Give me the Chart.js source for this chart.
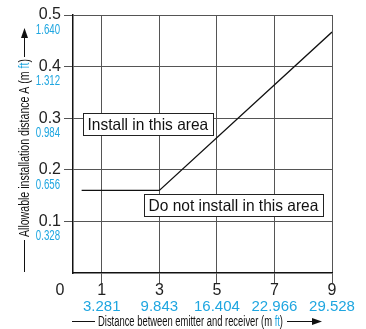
<!DOCTYPE html>
<html>
<head>
<meta charset="utf-8">
<script src="https://cdn.jsdelivr.net/npm/chart.js@4/dist/chart.umd.min.js"></script>
<style>
  body { margin: 0; background: #fff; }
  #wrap { width: 366px; height: 329px; }
</style>
</head>
<body>
<div id="wrap"><canvas id="chart"></canvas></div>
<script>
// Chart values
const xTicks = [1, 3, 5, 7, 9];
const xTicksFt = ['3.281', '9.843', '16.404', '22.966', '29.528'];
const yTicks = [0.1, 0.2, 0.3, 0.4, 0.5];
const yTicksFt = ['0.328', '0.656', '0.984', '1.312', '1.640'];
const limitX = [0.3, 3, 9];
const limitY = [0.16, 0.16, 0.467];
const areaLabels = ['Install in this area', 'Do not install in this area'];
const areaAnchorX = [0.34, 2.45];
const areaAnchorY = [0.31, 0.154];
const xTitle = ['Distance between emitter and receiver (m ', 'ft', ')'];
const yTitle = ['Allowable installation distance A (m ', 'ft', ')'];

const BLUE = '#1fa6e0';
const SANS = '"Liberation Sans", Arial, sans-serif';

// draw horizontally condensed text, left aligned at x
function narrowText(ctx, txt, x, y, sx) {
    ctx.save();
    ctx.translate(x, y);
    ctx.scale(sx, 1);
    ctx.fillText(txt, 0, 0);
    ctx.restore();
    return ctx.measureText(txt).width * sx;
}

// title made of black / blue / black parts squeezed into a given width
function drawTitle(ctx, parts, x, y, width) {
    const full = ctx.measureText(parts.join('')).width;
    const sx = width / full;
    let cx = x;
    parts.forEach((p, i) => {
        ctx.fillStyle = i === 1 ? BLUE : '#111';
        cx += narrowText(ctx, p, cx, y, sx);
    });
}

function arrowLine(ctx, x1, x2, y) {
    ctx.beginPath();
    ctx.moveTo(x1, y + 0.5); ctx.lineTo(x2 - 8, y + 0.5);
    ctx.stroke();
    ctx.beginPath();
    ctx.moveTo(x2, y + 0.5); ctx.lineTo(x2 - 10, y - 3); ctx.lineTo(x2 - 10, y + 4);
    ctx.closePath(); ctx.fill();
}

// Draws tick labels, annotation boxes and axis titles
const labelPlugin = {
    id: 'labels',
    afterDraw(chart) {
        const ctx = chart.ctx;
        const xs = chart.scales.x;
        const ys = chart.scales.y;
        ctx.save();
        ctx.textBaseline = 'middle';
        ctx.textAlign = 'left';

        // y tick labels (m / ft)
        yTicks.forEach((v, i) => {
            const py = ys.getPixelForValue(v);
            ctx.fillStyle = '#222';
            ctx.font = '16px ' + SANS;
            const t = v.toFixed(1);
            ctx.fillText(t, 61 - ctx.measureText(t).width, py);
            ctx.fillStyle = BLUE;
            ctx.font = '14px ' + SANS;
            const w = ctx.measureText(yTicksFt[i]).width * 0.69;
            narrowText(ctx, yTicksFt[i], 60 - w, py + 15, 0.69);
        });

        // x tick labels
        ctx.textAlign = 'center';
        ctx.fillStyle = '#222';
        ctx.font = '16px ' + SANS;
        ctx.fillText('0', 60, 291);
        xTicks.forEach((v, i) => {
            const px = xs.getPixelForValue(v);
            ctx.fillStyle = '#222';
            ctx.font = '16px ' + SANS;
            ctx.fillText(String(v), px, 291);
            ctx.fillStyle = BLUE;
            ctx.font = '15px ' + SANS;
            ctx.fillText(xTicksFt[i], px, 307);
        });

        // area boxes
        ctx.font = '16.5px ' + SANS;
        ctx.textAlign = 'left';
        areaLabels.forEach((txt, i) => {
            const bx = Math.round(xs.getPixelForValue(areaAnchorX[i]));
            const by = Math.round(ys.getPixelForValue(areaAnchorY[i]));
            const w = Math.round(ctx.measureText(txt).width * 0.94 + 9);
            const h = 22;
            ctx.fillStyle = '#fff';
            ctx.fillRect(bx, by, w, h);
            ctx.strokeStyle = '#222';
            ctx.lineWidth = 1;
            ctx.strokeRect(bx + 0.5, by + 0.5, w, h);
            ctx.fillStyle = '#111';
            narrowText(ctx, txt, bx + 4.5, by + h / 2 + 1.5, 0.94);
        });

        // x axis title with arrow
        ctx.font = '14px ' + SANS;
        ctx.strokeStyle = '#111';
        ctx.fillStyle = '#111';
        ctx.lineWidth = 1;
        ctx.beginPath();
        ctx.moveTo(72, 321.5); ctx.lineTo(95, 321.5);
        ctx.stroke();
        drawTitle(ctx, xTitle, 98, 322, 185);
        ctx.fillStyle = '#111';
        arrowLine(ctx, 287, 322, 321);

        // y axis title with arrow (rotated)
        ctx.translate(24, 0);
        ctx.rotate(-Math.PI / 2);
        ctx.beginPath();
        ctx.moveTo(-272, 0.5); ctx.lineTo(-240, 0.5);
        ctx.stroke();
        drawTitle(ctx, yTitle, -237, 1, 178);
        ctx.fillStyle = '#111';
        arrowLine(ctx, -57, -28, 0);

        ctx.restore();
    }
};

new Chart(document.getElementById('chart'), {
    type: 'line',
    data: {
        datasets: [{
            data: limitX.map((x, i) => ({ x: x, y: limitY[i] })),
            borderColor: '#111',
            borderWidth: 1.3,
            pointRadius: 0,
            tension: 0,
            fill: false
        }]
    },
    options: {
        responsive: true,
        maintainAspectRatio: false,
        animation: false,
        events: [],
        layout: { padding: { top: 15, right: 34, left: 0, bottom: 0 } },
        plugins: { legend: { display: false }, tooltip: { enabled: false } },
        scales: {
            x: {
                type: 'linear',
                min: 0,
                max: 9,
                afterBuildTicks: scale => { scale.ticks = xTicks.map(v => ({ value: v })); },
                afterFit: scale => { scale.height = 56; },
                ticks: { display: false },
                grid: { color: '#555', lineWidth: 1, tickLength: 10, drawTicks: true },
                border: { color: '#111', width: 1.5 }
            },
            y: {
                type: 'linear',
                min: 0,
                max: 0.5,
                afterBuildTicks: scale => { scale.ticks = yTicks.map(v => ({ value: v })); },
                afterFit: scale => { scale.width = 73; },
                ticks: { display: false },
                grid: { color: '#555', lineWidth: 1, tickLength: 9, drawTicks: true },
                border: { color: '#111', width: 1.5 }
            }
        }
    },
    plugins: [labelPlugin]
});
</script>
</body>
</html>
